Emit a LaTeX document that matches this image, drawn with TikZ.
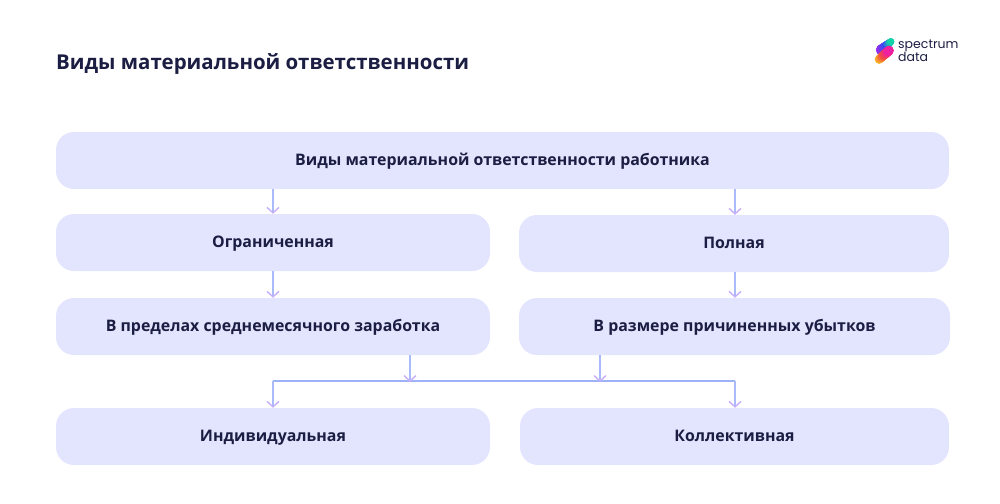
\documentclass[tikz,border=0pt]{standalone}
\usepackage{fontspec}
\setmainfont{Open Sans}
\newfontfamily\brandfont{Poppins}
\usetikzlibrary{arrows.meta}
\definecolor{boxfill}{HTML}{E3E4FE}
\definecolor{inkdark}{HTML}{1B1D42}
\definecolor{shaftblue}{HTML}{A9BBFA}
\definecolor{tipviolet}{HTML}{C6AEF8}
\definecolor{railblue}{HTML}{9DB2F8}
\definecolor{logoteal}{HTML}{14D2A8}
\definecolor{logoblue}{HTML}{3A4CF2}
\definecolor{logoviolet}{HTML}{A02BEA}
\definecolor{logopink}{HTML}{EE1FA0}
\definecolor{logored}{HTML}{F4503C}
\definecolor{logoyellow}{HTML}{F9C02C}
\tikzset{
  kindbox/.style={fill=boxfill, rounded corners=18pt, font=\fontsize{15.9}{18}\selectfont\bfseries, text=inkdark, align=center, minimum height=57pt, inner sep=0pt, text height=11pt, text depth=1pt},
  downarrow/.style={draw=shaftblue, line width=1.5pt, -{Straight Barb[color=tipviolet, length=5.5pt, width=12pt, line width=1.4pt]}},
  rail/.style={draw=railblue, line width=1.5pt}
}
\begin{document}
\begin{tikzpicture}[x=1pt, y=-1pt]
  \useasboundingbox (0,0) rectangle (1000,503);
  \node[font=\fontsize{20.45}{24}\selectfont\bfseries, text=inkdark, anchor=west, inner sep=0pt] (title) at (56,63.5) {Виды материальной ответственности};
  % boxes
  \node[kindbox, minimum width=893pt] (root) at (502.5,160.5) {Виды материальной ответственности работника};
  \node[kindbox, minimum width=434pt] (limited) at (273,242.5) {Ограниченная};
  \node[kindbox, minimum width=430pt] (full) at (734,243.5) {Полная};
  \node[kindbox, minimum width=434pt] (average) at (273,326.5) {В пределах среднемесячного заработка};
  \node[kindbox, minimum width=431pt] (damage) at (734.5,326.5) {В размере причиненных убытков};
  \node[kindbox, minimum width=434pt] (single) at (273,436.5) {Индивидуальная};
  \node[kindbox, minimum width=429pt] (group) at (734.5,436.5) {Коллективная};
  % arrows
  \coordinate (railleft) at (273,381);
  \coordinate (railright) at (735,381);
  \coordinate (railfromavg) at (410,382);
  \coordinate (railfromdmg) at (600,382);
  \draw[downarrow] (limited.north |- root.south) -- (limited.north);
  \draw[downarrow] (railright |- root.south) -- (railright |- full.north);
  \draw[downarrow] (limited.south) -- (average.north);
  \draw[downarrow] (railright |- full.south) -- (railright |- damage.north);
  \draw[rail] (railleft) -- (railright);
  \draw[downarrow] (railleft) -- (single.north);
  \draw[downarrow] (railright) -- (railright |- group.north);
  \draw[downarrow] (average.south -| railfromavg) -- (railfromavg);
  \draw[downarrow] (damage.south -| railfromdmg) -- (railfromdmg);
  % logo
  \foreach \t in {100,98,...,0} {
    \ifnum\t<40 \colorlet{logotop}{logoblue!\the\numexpr5*\t/2\relax!logoteal}\else\colorlet{logotop}{logoviolet!\the\numexpr(\t-40)*5/3\relax!logoblue}\fi
    \fill[logotop] ({891-0.10*\t},{41.5+0.085*\t}) circle ({3.4+0.018*\t});
  }
  \foreach \t in {100,98,...,0} {
    \ifnum\t<50 \colorlet{logolow}{logored!\the\numexpr2*\t\relax!logopink}\else\colorlet{logolow}{logoyellow!\the\numexpr2*\t-100\relax!logored}\fi
    \fill[logolow] ({889-0.10*\t},{50.5+0.09*\t}) circle ({4.8-0.005*\t});
  }
  \node[font=\brandfont\fontsize{12.5}{12}\selectfont, text=inkdark, align=left, anchor=west, inner sep=0pt] (brand) at (898,51) {spectrum\\[-1pt]data};
\end{tikzpicture}
\end{document}
